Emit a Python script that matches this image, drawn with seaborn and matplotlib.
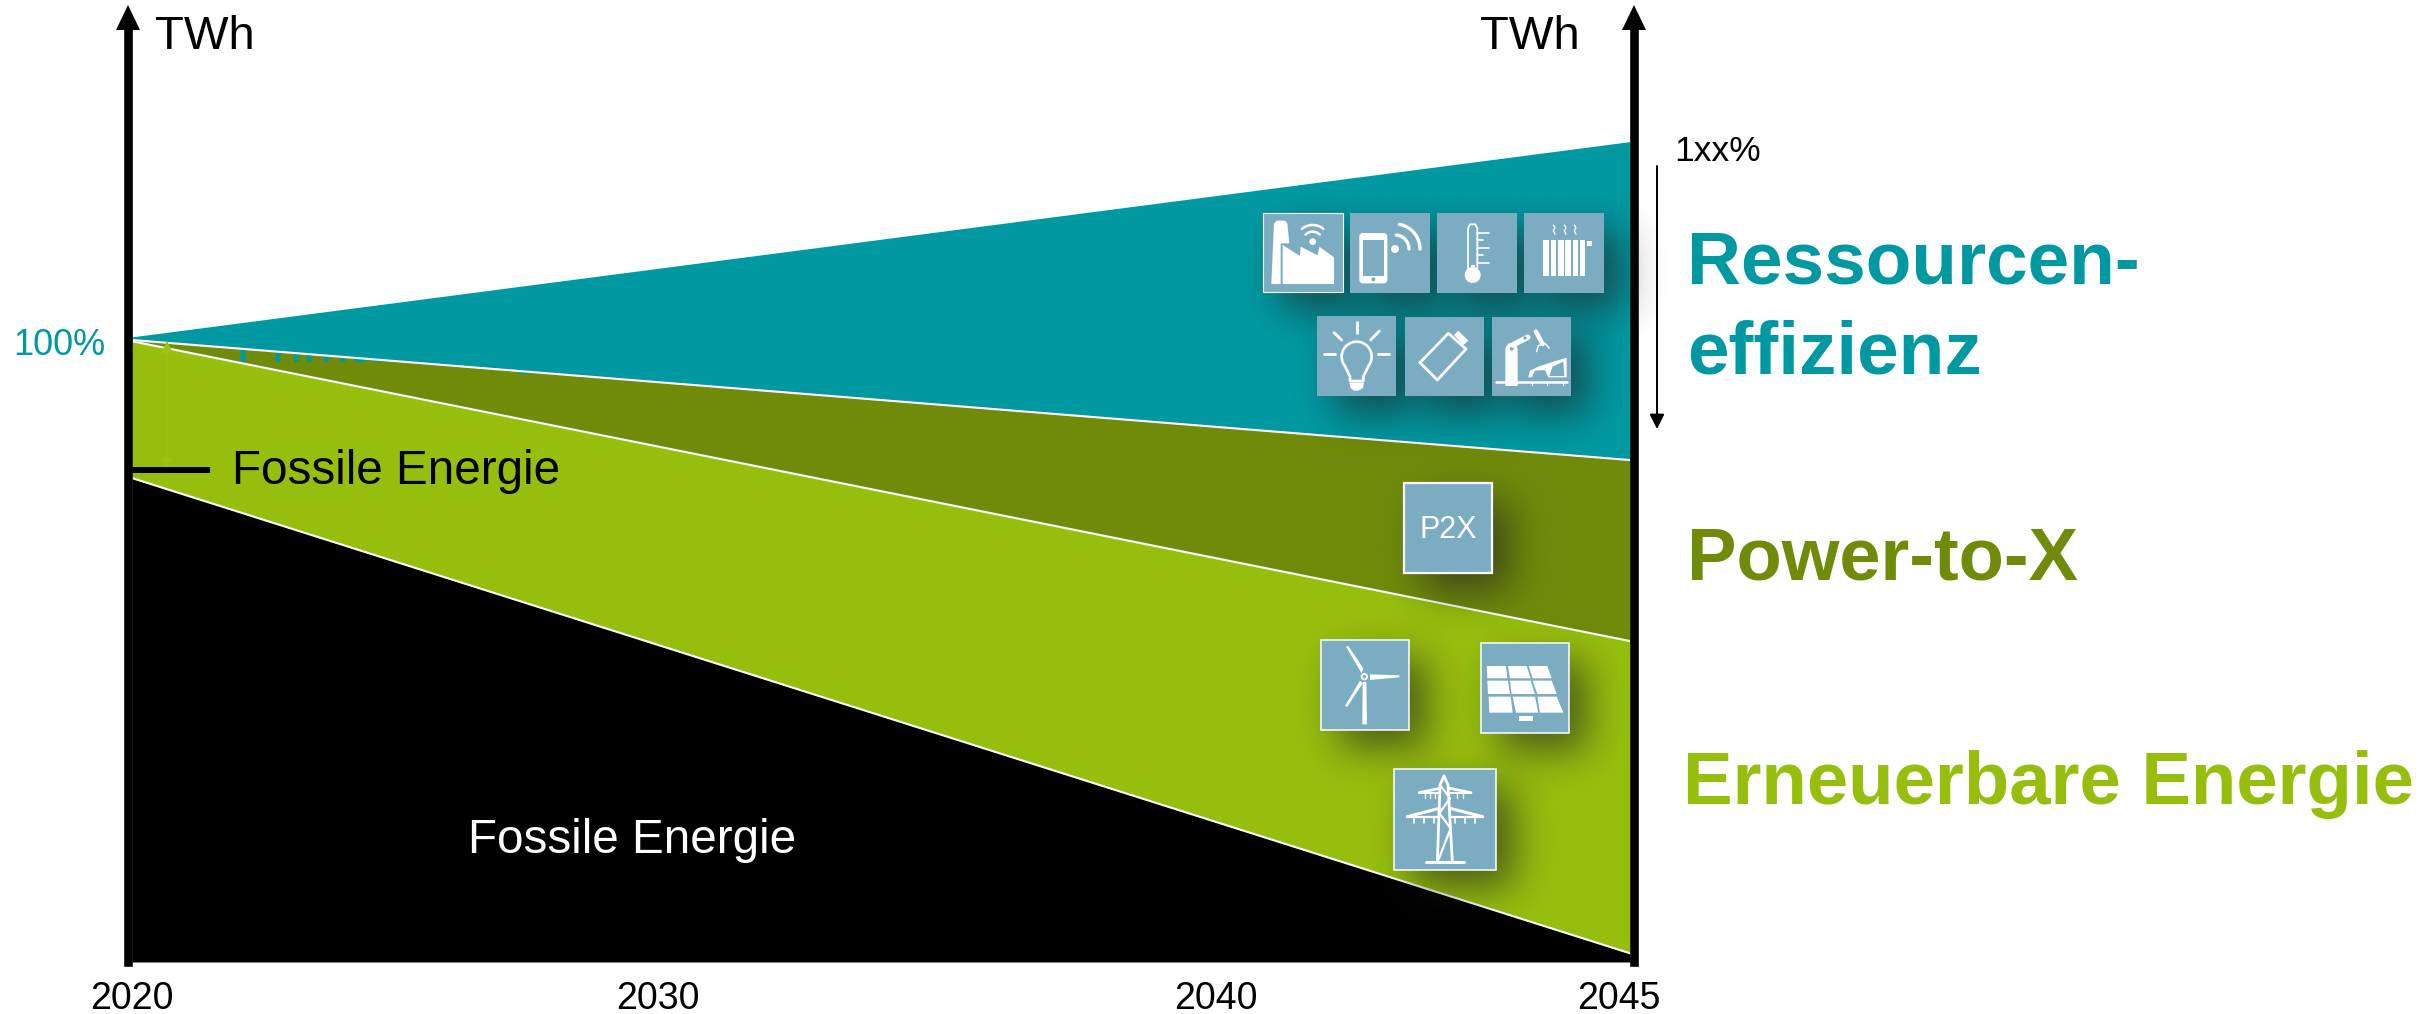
import math
import numpy as np
import pandas as pd
import seaborn as sns
import matplotlib
matplotlib.use("Agg")
import matplotlib.pyplot as plt
from matplotlib.patches import Polygon, Rectangle, Circle, FancyBboxPatch
from matplotlib.transforms import ScaledTranslation

# ---------- data (% of 2020 demand) ----------
years = [2020, 2045]
fossil = [77.8, 1.4]
renewable_top = [99.8, 51.6]
p2x_top = [100.0, 80.7]
efficiency_top = [100.5, 131.9]
tick_years = [2020, 2030, 2040, 2045]
tick_pixels = [132, 658, 1216, 1630]      # the original time axis is drawn unevenly

TEAL, OLIVE, GREEN = "#0099A2", "#708B0A", "#96BF0D"
BOX = "#7CACC2"
W, H = 2435, 1014
LEFT, RIGHT, BOTTOM, TOP = 132, 1630, 962, 20
PX_PER_UNIT = 6.22

sns.set_theme(style="white")
plt.rcParams["font.family"] = ["Liberation Sans", "DejaVu Sans"]

fig = plt.figure(figsize=(W / 100, H / 100), dpi=100, facecolor="white")
ax = fig.add_axes([LEFT / W, 1 - BOTTOM / H, (RIGHT - LEFT) / W, (BOTTOM - TOP) / H])
ax.patch.set_alpha(0)

fwd = lambda v: np.interp(v, tick_years, tick_pixels)
inv = lambda v: np.interp(v, tick_pixels, tick_years)
ax.set_xscale("function", functions=(fwd, inv))
ax.set_xlim(2020, 2045)
ax.set_ylim(0, (BOTTOM - TOP) / PX_PER_UNIT)

# ---------- bands ----------
base = [0, 0]
ax.fill_between(years, base, fossil, color="black", lw=0, zorder=3)
ax.fill_between(years, fossil, renewable_top, color=GREEN, lw=0, zorder=3)
ax.fill_between(years, renewable_top, p2x_top, color=OLIVE, lw=0, zorder=1)
ax.fill_between(years, p2x_top, efficiency_top, color=TEAL, lw=0, zorder=2.5)

# white separators through seaborn
long = pd.DataFrame({
    "year": years * 3,
    "value": fossil + renewable_top + p2x_top,
    "series": ["Fossile"] * 2 + ["Erneuerbare"] * 2 + ["P2X"] * 2,
})
sns.lineplot(data=long, x="year", y="value", hue="series",
             palette={"Fossile": "white", "Erneuerbare": "white", "P2X": "white"},
             estimator=None, sort=False, legend=False, lw=1.5, ax=ax, zorder=4)
ax.set_xlabel("")
ax.set_ylabel("")

# ---------- axes ----------
for s in ("top", "bottom"):
    ax.spines[s].set_visible(False)
for s in ("left", "right"):
    ax.spines[s].set_visible(True)
    ax.spines[s].set_color("black")
    ax.spines[s].set_linewidth(6.2)
    ax.spines[s].set_position(("outward", 2.8))
    ax.spines[s].set_zorder(5)
ax.set_yticks([])
ax.set_xticks(tick_years)
ax.xaxis.set_minor_locator(matplotlib.ticker.NullLocator())
ax.set_xticklabels([str(y) for y in tick_years], fontsize=27, color="black")
ax.tick_params(axis="x", length=0, pad=14)
ax.xaxis.get_ticklabels()[-1].set_transform(
    ax.xaxis.get_ticklabels()[-1].get_transform()
    + ScaledTranslation(-11 / 100, 0, fig.dpi_scale_trans))

# ---------- pixel overlay for annotations and pictograms ----------
ov = fig.add_axes([0, 0, 1, 1], facecolor="none")
ov.set_xlim(0, W)
ov.set_ylim(H, 0)
ov.axis("off")

# hidden label, lying between the olive band and the teal wedge
ax.text(236, 362, "Primärenergie", transform=ov.transData, color=TEAL, fontsize=40,
        va="baseline", ha="left", zorder=2, clip_on=False)

for cx in (128, 1634):
    ov.add_patch(Polygon([(cx, 5), (cx - 12, 30), (cx + 12, 30)], color="black", lw=0, zorder=5))

def txt(x, y, s, size, color="black", **kw):
    ov.text(x, y, s, fontsize=size, color=color, va="baseline", ha=kw.pop("ha", "left"), zorder=6, **kw)

txt(155, 49, "TWh", 34)
txt(1480, 49, "TWh", 34)
txt(13, 355, "100%", 26, TEAL)
txt(1674, 161, "1xx%", 25.5)
txt(232, 484, "Fossile Energie", 34.3)
txt(468, 853, "Fossile Energie", 34.3, "white")
txt(1687, 283, "Ressourcen-", 53.8, TEAL, fontweight="bold")
txt(1687, 374, "effizienz", 53.8, TEAL, fontweight="bold")
txt(1687, 580, "Power-to-X", 53.4, OLIVE, fontweight="bold")
txt(1683, 804, "Erneuerbare Energie", 53.6, GREEN, fontweight="bold")

ov.plot([132, 210], [470, 470], color="black", lw=4.3, solid_capstyle="butt", zorder=5)
ov.annotate("", xy=(167, 341), xytext=(167, 470), zorder=4,
            arrowprops=dict(arrowstyle="<|-|>", color="#9BC40F", lw=1, shrinkA=0, shrinkB=0, mutation_scale=18))
ov.annotate("", xy=(1657, 429), xytext=(1657, 166), zorder=5,
            arrowprops=dict(arrowstyle="-|>", color="black", lw=1.4, shrinkA=0, shrinkB=0, mutation_scale=22))

# ---------- pictogram boxes (x0, y0, x1, y1, border width) ----------
boxes = [
    (1263, 213, 1343, 292, 0.8), (1350, 213, 1430, 293, 0),
    (1437, 213, 1517, 293, 0), (1524, 213, 1604, 293, 0),
    (1317, 316, 1396, 396, 0), (1405, 317, 1484, 396, 0),
    (1492, 317, 1571, 396, 0),
    (1404, 483, 1492, 573, 1.6), (1321, 640, 1409, 730, 1.1),
    (1481, 643, 1569, 733, 1.1), (1394, 769, 1496, 870, 1.1),
]
erf = np.vectorize(math.erf)

def shadow(x0, y0, x1, y1, off=18, sigma=20, strength=0.62):
    pad = 80
    xs = np.arange(x0 - pad, x1 + pad + off)
    ys = np.arange(y0 - pad, y1 + pad + off)
    px = 0.5 * (erf((xs - x0 - off) / (sigma * 2 ** .5)) - erf((xs - x1 - off) / (sigma * 2 ** .5)))
    py = 0.5 * (erf((ys - y0 - off) / (sigma * 2 ** .5)) - erf((ys - y1 - off) / (sigma * 2 ** .5)))
    img = np.zeros((len(ys), len(xs), 4))
    img[..., :3] = 0.12
    img[..., 3] = strength * np.outer(py, px)
    ov.imshow(img, extent=(xs[0], xs[-1], ys[-1], ys[0]), aspect="auto", zorder=1, interpolation="bilinear")

for b in boxes:
    shadow(*b[:4])
ov.set_xlim(0, W)
ov.set_ylim(H, 0)
for x0, y0, x1, y1, border in boxes:
    ov.add_patch(Rectangle((x0, y0), x1 - x0, y1 - y0, facecolor=BOX,
                           edgecolor="white" if border else BOX, lw=border, zorder=2))

A = (1230, 180)   # row icons: coordinates given at 3x from this origin
B = (1290, 470)   # lower icons

def P(pts, o):
    return [(o[0] + x / 3, o[1] + y / 3) for x, y in pts]

def poly(pts, o, color="white"):
    ov.add_patch(Polygon(P(pts, o), closed=True, facecolor=color, edgecolor="none", zorder=3))

def line(pts, o, lw=1.5, color="white"):
    q = P(pts, o)
    ov.plot([p[0] for p in q], [p[1] for p in q], color=color, lw=lw, zorder=3,
            solid_capstyle="round", solid_joinstyle="round")

def dot(x, y, r, o, color="white"):
    ov.add_patch(Circle((o[0] + x / 3, o[1] + y / 3), r / 3, facecolor=color, edgecolor="none", zorder=3))

def arc(cx, cy, r, a0, a1, o, lw=1.5):
    t = np.radians(np.linspace(a0, a1, 30))
    line(list(zip(cx + r * np.cos(t), cy - r * np.sin(t))), o, lw)

# factory
poly([(124, 312), (132, 130), (140, 122), (165, 122), (172, 130), (178, 190), (152, 190), (152, 312)], A)
poly([(158, 312), (158, 195), (210, 228), (212, 200), (263, 226), (268, 200), (312, 232), (312, 312)], A)
dot(248, 185, 10, A)
arc(248, 185, 30, 45, 135, A, 1.8)
arc(248, 185, 50, 50, 130, A, 1.8)
# phone
ov.add_patch(FancyBboxPatch((1230 + 390 / 3, 180 + 161 / 3), 80 / 3, 147 / 3,
                            boxstyle="round,pad=0,rounding_size=3", facecolor="white", edgecolor="white", lw=1, zorder=3))
poly([(398, 180), (462, 180), (462, 287), (398, 287)], A, BOX)
dot(430, 298, 6, A, BOX)
dot(495, 207, 12, A)
arc(495, 207, 42, 0, 85, A, 2.4)
arc(495, 207, 75, 0, 80, A, 2.4)
# thermometer
line([(714, 265), (714, 145), (720, 133), (736, 133), (742, 145), (742, 265)], A, 1.3)
dot(728, 285, 24, A)
poly([(722, 255), (734, 255), (734, 270), (722, 270)], A)
for yy, xe in [(158, 778), (181, 758), (203, 778), (226, 758), (248, 778)]:
    line([(742, yy), (xe, yy)], A, 1.2)
# radiator
for xx in (940, 962, 984, 1006, 1028, 1049):
    poly([(xx, 180), (xx + 17, 180), (xx + 17, 287), (xx, 287)], A)
poly([(1071, 183), (1085, 183), (1085, 197), (1071, 197)], A)
for xx in (970, 1003, 1033):
    line([(xx, 135), (xx + 5, 143), (xx, 152), (xx + 5, 163)], A, 0.9)
# bulb
arc(380, 530, 45, -40, 220, A, 1.9)
line([(345, 559), (360, 590), (360, 603), (400, 603), (400, 590), (415, 559)], A, 1.9)
poly([(358, 608), (402, 608), (398, 625), (385, 632), (372, 632), (362, 625)], A)
for seg in ([(381, 425), (381, 460)], [(312, 458), (335, 480)], [(448, 453), (422, 480)],
            [(282, 522), (316, 522)], [(443, 521), (476, 521)]):
    line(seg, A, 2)
# battery
line([(570, 548), (655, 460), (708, 507), (622, 600), (570, 548)], A, 2)
poly([(672, 465), (685, 452), (715, 482), (700, 495)], A)
# robot
poly([(826, 618), (826, 505), (835, 490), (855, 490), (863, 505), (863, 618)], A)
dot(845, 506, 6, A, BOX)
line([(848, 495), (893, 472)], A, 4)
dot(885, 474, 5, A, BOX)
line([(918, 455), (938, 492)], A, 3.2)
line([(920, 515), (925, 497), (945, 490), (958, 505)], A, 1)
line([(798, 606), (1010, 606)], A, 1.8)
poly([(895, 592), (900, 572), (925, 560), (970, 545), (1010, 533), (1010, 592), (985, 592), (955, 592), (945, 570), (915, 572), (905, 592)], A)
poly([(958, 588), (968, 560), (1000, 545), (1003, 588)], A, BOX)
for xx in (905, 950, 1000):
    line([(xx, 606), (xx, 616)], A, 1)

# P2X
ov.text(1290 + 475 / 3, 470 + 205 / 3, "P2X", fontsize=22, color="white", ha="center", va="baseline", zorder=3)
# wind turbine
poly([(168, 530), (175, 528), (220, 595), (215, 610)], B)
poly([(240, 613), (328, 616), (328, 622), (240, 630)], B)
poly([(210, 632), (218, 640), (172, 710), (165, 708)], B)
poly([(218, 636), (229, 636), (231, 763), (217, 763)], B)
dot(223, 620, 11, B)
dot(223, 620, 5, B, BOX)
# solar panel
cells = [
    [(590, 588), (648, 588), (652, 625), (592, 625)], [(654, 588), (710, 588), (722, 625), (660, 625)],
    [(716, 588), (772, 588), (785, 625), (728, 625)], [(592, 632), (654, 632), (660, 672), (594, 672)],
    [(660, 632), (722, 632), (735, 672), (665, 672)], [(728, 632), (785, 632), (800, 672), (742, 672)],
    [(596, 680), (662, 680), (668, 728), (598, 728)], [(668, 680), (735, 680), (745, 728), (678, 728)],
    [(742, 680), (800, 680), (820, 728), (750, 728)], [(688, 737), (728, 737), (728, 753), (688, 753)],
]
for c in cells:
    poly(c, B)
# pylon
line([(462, 918), (450, 945), (442, 1175)], B, 2)
line([(462, 918), (474, 945), (487, 1175)], B, 2)
line([(450, 945), (480, 985), (448, 1030), (482, 1075), (445, 1170)], B, 1.6)
line([(407, 1176), (522, 1176)], B, 2.2)
line([(388, 968), (450, 955)], B, 2)
line([(388, 968), (450, 968)], B, 1.4)
line([(480, 955), (543, 968)], B, 2)
line([(480, 968), (543, 968)], B, 1.4)
line([(352, 1040), (448, 1015)], B, 2.2)
line([(352, 1040), (448, 1040)], B, 1.6)
line([(480, 1015), (578, 1040)], B, 2.2)
line([(480, 1040), (578, 1040)], B, 1.6)
for xx in (405, 420, 435, 500, 520):
    line([(xx, 970), (xx, 985)], B, 1)
for xx in (372, 402, 432, 495, 525, 555):
    line([(xx, 1042), (xx, 1058)], B, 1.2)

fig.savefig("out.png", dpi=100)
